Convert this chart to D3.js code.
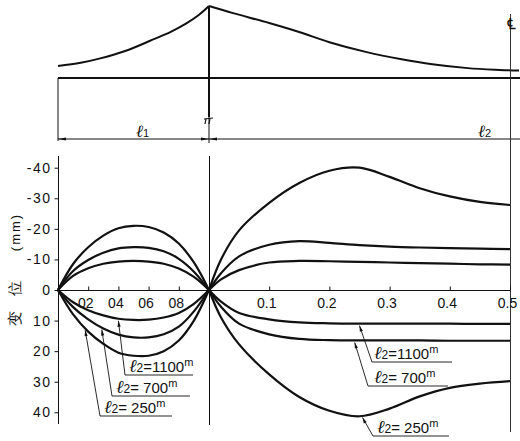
<!DOCTYPE html>
<html>
<head>
<meta charset="utf-8">
<script src="https://cdn.jsdelivr.net/npm/d3@7"></script>
<style>
  body { margin: 0; background: #fff; }
  svg { display: block; }
  text { font-family: "Liberation Sans", Arial, sans-serif; fill: #111; }
</style>
</head>
<body>
<script>
// displacement of the cable-stayed bridge deck (mm), for three side spans l2

// left span, position as fraction of l1
var leftX = [0, 0.1, 0.2, 0.3, 0.4, 0.5, 0.6, 0.7, 0.8, 0.9, 1.0];
var left250Up   = [0, -8.5, -14, -17.8, -20.2, -21, -20.6, -18.8, -15.2, -9, 0];
var left700Up   = [0, -6.2, -9.8, -12.2, -13.6, -14, -13.8, -12.7, -10.2, -6, 0];
var left1100Up  = [0, -4.6, -7.1, -8.6, -9.3, -9.5, -9.3, -8.6, -7, -4.3, 0];
var left1100Dn  = [0, 4, 6.6, 8.3, 9.4, 9.8, 9.7, 9, 7.5, 4.5, 0];
var left700Dn   = [0, 5.6, 9.6, 12.6, 14.6, 15.5, 15.5, 14.5, 12, 7, 0];
var left250Dn   = [0, 8, 13.6, 17.6, 20.5, 21.5, 21.5, 20, 16.5, 10, 0];

// right span, position as fraction of l2 (to mid span)
var rightX = [0, 0.02, 0.05, 0.1, 0.15, 0.2, 0.25, 0.3, 0.35, 0.4, 0.45, 0.5];
var right250Up  = [0, -10, -19.5, -28.5, -35, -39, -40, -37, -33.3, -30.6, -28.8, -27.8];
var right700Up  = [0, -5.5, -11, -14.8, -16, -15.4, -14.7, -14.2, -13.9, -13.7, -13.5, -13.4];
var right1100Up = [0, -3.5, -6.5, -9, -9.5, -9.4, -9.2, -9, -8.8, -8.6, -8.4, -8.3];
var right1100Dn = [0, 3.8, 7.5, 9.6, 10.6, 10.9, 11, 11, 11, 11, 11.1, 11.1];
var right700Dn  = [0, 5.5, 11, 14.5, 16, 16.4, 16.5, 16.5, 16.5, 16.6, 16.6, 16.6];
var right250Dn  = [0, 9, 17.8, 27.6, 35, 39.5, 41.3, 38.8, 34.8, 32, 30.6, 29.8];

var yTicks = [-40, -30, -20, -10, 0, 10, 20, 30, 40];
var leftTicks = [0.2, 0.4, 0.6, 0.8];
var leftTickLabels = ["02", "04", "06", "08"];
var rightTicks = [0.1, 0.2, 0.3, 0.4, 0.5];
var spanNames = ["1100", "700", "250"];

// bridge elevation sketch: cable height (0 = deck, 1 = tower top)
var cableLeftU = [0, 0.15, 0.28, 0.45, 0.61, 0.75, 0.85, 0.93, 1];
var cableLeftH = [0.155, 0.2, 0.262, 0.37, 0.51, 0.64, 0.755, 0.87, 1];
var cableRightU = [0, 0.04, 0.1, 0.151, 0.2, 0.262, 0.32, 0.371, 0.43, 0.483, 0.515];
var cableRightH = [1, 0.9, 0.76, 0.63, 0.49, 0.35, 0.25, 0.18, 0.125, 0.1, 0.09];

var W = 520, H = 441;
var svg = d3.select("body").append("svg").attr("width", W).attr("height", H);

var xL = d3.scaleLinear().domain([0, 1]).range([58, 209]);
var xR = d3.scaleLinear().domain([0, 0.5]).range([209, 510]);
var y = d3.scaleLinear().domain([-43.5, 43.5]).range([157, 423]);
var h = d3.scaleLinear().domain([0, 1]).range([77, 6]);

var ink = "#111";
var smooth = d3.curveCatmullRom.alpha(0.5);

// ---------- top sketch ----------
var sketch = svg.append("g");
var cable = d3.line().curve(smooth);
sketch.append("path")
  .attr("d", cable(cableLeftU.map(function (u, i) { return [xL(u), h(cableLeftH[i])]; })))
  .attr("fill", "none").attr("stroke", ink).attr("stroke-width", 2);
sketch.append("path")
  .attr("d", cable(cableRightU.map(function (u, i) { return [xR(u), h(cableRightH[i])]; })))
  .attr("fill", "none").attr("stroke", ink).attr("stroke-width", 2);
// deck
sketch.append("line").attr("x1", xL(0)).attr("x2", W).attr("y1", h(0) + 1).attr("y2", h(0) + 1)
  .attr("stroke", ink).attr("stroke-width", 2);
// tower
sketch.append("line").attr("x1", xL(1)).attr("x2", xL(1)).attr("y1", h(1)).attr("y2", 117)
  .attr("stroke", ink).attr("stroke-width", 2);
sketch.append("line").attr("x1", xL(1)).attr("x2", xL(1)).attr("y1", 117).attr("y2", 143)
  .attr("stroke", ink).attr("stroke-width", 1);
// bearing
sketch.append("path").attr("d", "M204,119 L213,118 M206,119 L205,124 M210,119 L209,124")
  .attr("fill", "none").attr("stroke", ink).attr("stroke-width", 1.2);
// left end and dimension line
sketch.append("line").attr("x1", xL(0)).attr("x2", xL(0)).attr("y1", h(0) + 1).attr("y2", 141)
  .attr("stroke", ink).attr("stroke-width", 1);
sketch.append("line").attr("x1", xL(0)).attr("x2", W).attr("y1", 139).attr("y2", 139)
  .attr("stroke", ink).attr("stroke-width", 1);
function arrow(x, dir) {
  sketch.append("path")
    .attr("d", "M" + x + ",139 l" + (dir * 8) + ",-1.6 l0,3.2 Z")
    .attr("fill", ink);
}
arrow(xL(0), 1);
arrow(xL(1), -1);
arrow(xL(1), 1);

function ell(g, x, yy, sub, size) {
  var t = g.append("text").attr("x", x).attr("y", yy).attr("font-size", size);
  t.append("tspan").text("ℓ").attr("font-style", "italic")
    .attr("font-family", "DejaVu Serif").attr("font-size", size + 3);
  t.append("tspan").text(sub).attr("font-size", size - 3);
  return t;
}
ell(sketch, 136, 137, "1", 14);
ell(sketch, 478, 137, "2", 14);

// centre line
svg.append("line").attr("x1", 510.5).attr("x2", 510.5).attr("y1", 14).attr("y2", 432)
  .attr("stroke", "#333").attr("stroke-width", 1);
svg.append("text").attr("x", 511).attr("y", 29).attr("text-anchor", "middle")
  .attr("font-size", 15).attr("font-weight", "bold").attr("font-family", "DejaVu Sans").text("℄");

// ---------- displacement chart ----------
var chart = svg.append("g");

// y axis
chart.append("line").attr("x1", 58.5).attr("x2", 58.5).attr("y1", 156).attr("y2", 424)
  .attr("stroke", ink).attr("stroke-width", 1);
var yAxis = chart.append("g").attr("transform", "translate(58.5,0)")
  .call(d3.axisLeft(y).tickValues(yTicks).tickSize(4).tickPadding(3)
    .tickFormat(function (d) { return d < 0 ? "-" + (-d) : String(d); }));
yAxis.select(".domain").remove();
yAxis.selectAll("line").attr("stroke", ink);
yAxis.selectAll("text").attr("font-size", 14).attr("letter-spacing", 1.5)
  .attr("font-family", "DejaVu Sans").attr("fill", ink);

// zero line + x ticks
chart.append("line").attr("x1", 58).attr("x2", 510).attr("y1", y(0) + 0.5).attr("y2", y(0) + 0.5)
  .attr("stroke", ink).attr("stroke-width", 1);
var axL = chart.append("g").attr("transform", "translate(0," + (y(0) + 0.5) + ")")
  .call(d3.axisBottom(xL).tickValues(leftTicks).tickSize(-4).tickPadding(8)
    .tickFormat(function (d, i) { return leftTickLabels[i]; }));
var axR = chart.append("g").attr("transform", "translate(0," + (y(0) + 0.5) + ")")
  .call(d3.axisBottom(xR).tickValues(rightTicks).tickSize(-4).tickPadding(8)
    .tickFormat(d3.format(".1f")));
[axL, axR].forEach(function (a) {
  a.select(".domain").remove();
  a.selectAll("line").attr("stroke", ink);
  a.selectAll("text").attr("font-size", 14).attr("dx", -3).attr("font-family", "DejaVu Sans")
    .attr("fill", ink);
});

// tower line through chart
chart.append("line").attr("x1", xL(1) + 0.5).attr("x2", xL(1) + 0.5).attr("y1", 156).attr("y2", 425)
  .attr("stroke", ink).attr("stroke-width", 1);

// curves
var lineL = d3.line().x(function (d, i) { return xL(leftX[i]); }).y(function (d) { return y(d); })
  .curve(smooth);
var lineR = d3.line().x(function (d, i) { return xR(rightX[i]); }).y(function (d) { return y(d); })
  .curve(smooth);
[left250Up, left700Up, left1100Up, left1100Dn, left700Dn, left250Dn].forEach(function (s) {
  chart.append("path").attr("d", lineL(s)).attr("fill", "none")
    .attr("stroke", ink).attr("stroke-width", 2.2);
});
[right250Up, right700Up, right1100Up, right1100Dn, right700Dn, right250Dn].forEach(function (s) {
  chart.append("path").attr("d", lineR(s)).attr("fill", "none")
    .attr("stroke", ink).attr("stroke-width", 2.2);
});

// y title (opacity forces grayscale text antialiasing)
var ty = chart.append("g").attr("font-size", 15).attr("fill", ink).style("opacity", 0.99);
ty.append("text").attr("transform", "translate(15,318) rotate(-90)").attr("text-anchor", "middle")
  .attr("dy", "0.35em").attr("font-family", "Noto Sans CJK SC").attr("fill", ink).text("变");
ty.append("text").attr("transform", "translate(15,288) rotate(-90)").attr("text-anchor", "middle")
  .attr("dy", "0.35em").attr("font-family", "Noto Sans CJK SC").attr("fill", ink).text("位");
ty.append("text").attr("transform", "translate(15,232) rotate(-90)").attr("text-anchor", "middle")
  .attr("dy", "0.35em").attr("font-size", 13).attr("letter-spacing", 2).attr("fill", ink).text("(mm)");

// annotations: curve point (data x on the lower curve) -> label
function interp(xs, ys, v) {
  return d3.scaleLinear().domain(xs).range(ys)(v);
}
function note(scaleX, xs, series, at, lx, ly, ulen, name, gap) {
  var px = scaleX(at), py = y(interp(xs, series, at));
  chart.append("line").attr("x1", px).attr("y1", py + 2).attr("x2", lx).attr("y2", ly)
    .attr("stroke", ink).attr("stroke-width", 0.9);
  chart.append("line").attr("x1", lx).attr("y1", ly).attr("x2", lx + ulen).attr("y2", ly)
    .attr("stroke", ink).attr("stroke-width", 0.9);
  var ang = Math.atan2(ly - py, lx - px);
  chart.append("path")
    .attr("d", "M0,0 L6,-1.6 L6,1.6 Z")
    .attr("transform", "translate(" + px + "," + (py + 2) + ") rotate(" + (ang * 180 / Math.PI) + ")")
    .attr("fill", ink);
  var t = ell(chart, lx + gap, ly - 3, "2", 15);
  t.append("tspan").text(name === "1100" ? "=" + name : "= " + name).attr("font-size", 15);
  t.append("tspan").text("m").attr("font-size", 11).attr("dy", -6);
}
note(xL, leftX, left1100Dn, 0.4, 125, 375, 68, spanNames[0], 4);
note(xL, leftX, left700Dn, 0.29, 112, 396, 78, spanNames[1], 4);
note(xL, leftX, left250Dn, 0.18, 100, 416, 72, spanNames[2], 4);
note(xR, rightX, right1100Dn, 0.25, 372, 362, 80, spanNames[0], 2);
note(xR, rightX, right700Dn, 0.242, 368, 386, 80, spanNames[1], 6);
note(xR, rightX, right250Dn, 0.255, 373, 436, 76, spanNames[2], 4);
</script>
</body>
</html>
